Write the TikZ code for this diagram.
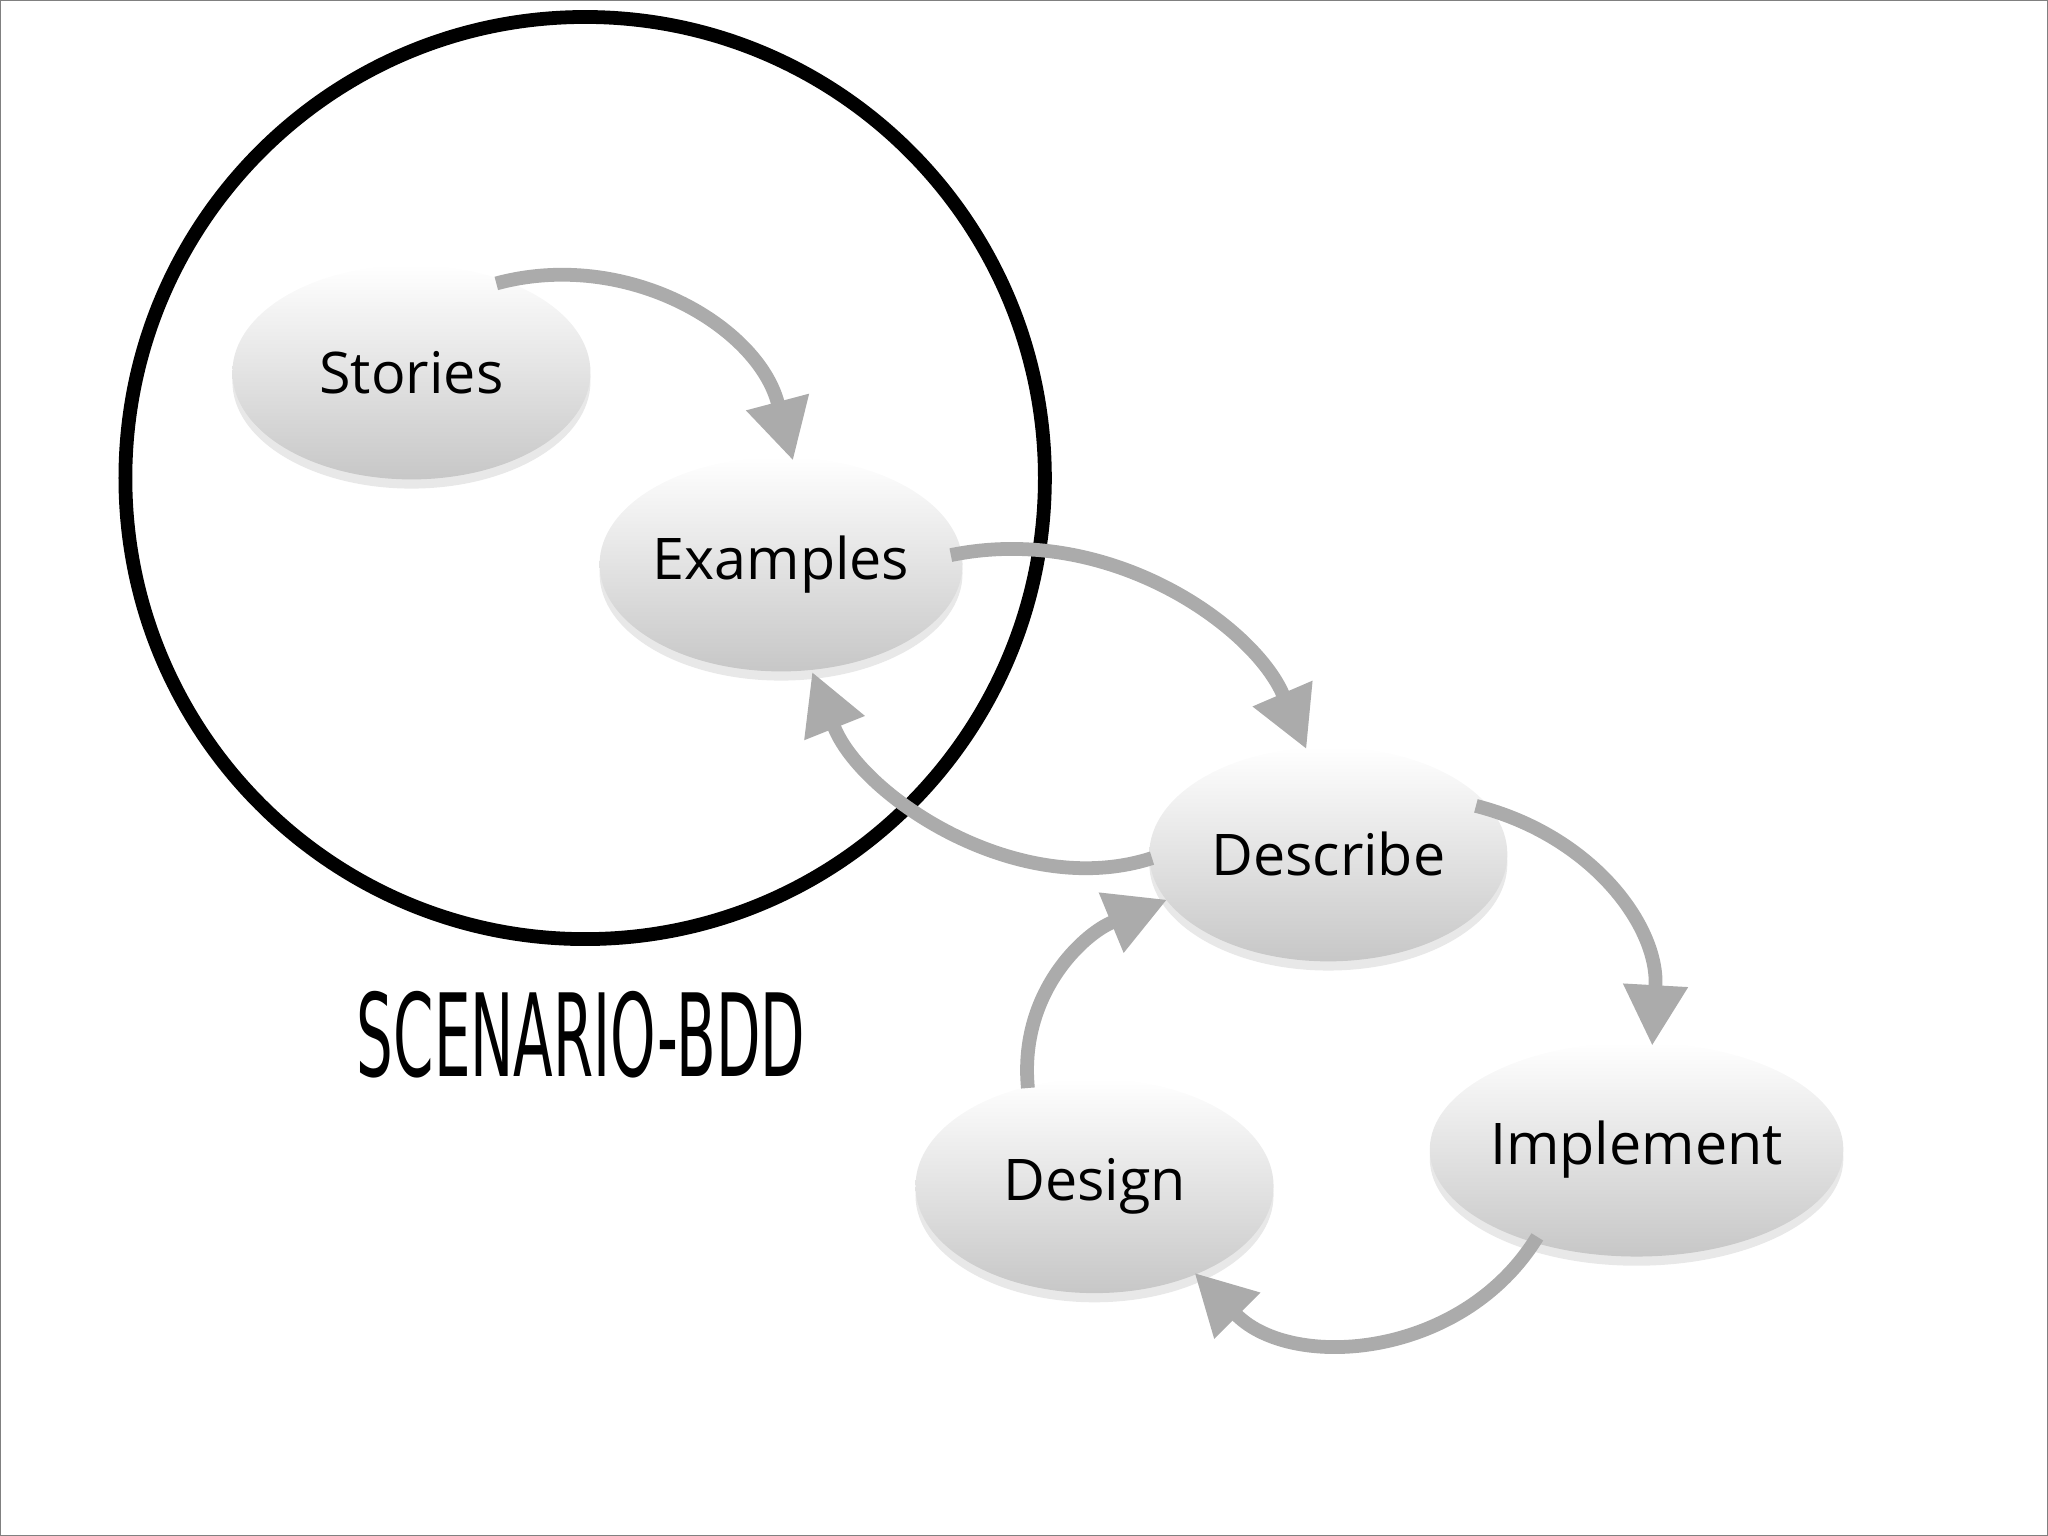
\documentclass[tikz,border=0pt]{standalone}
\usepackage{fontspec}
\setmainfont{Open Sans}
\newfontfamily\titlefont{DejaVu Sans Condensed}
\usetikzlibrary{shadows,arrows.meta,shapes.geometric}
\begin{document}
\begin{tikzpicture}[x=0.01cm,y=-0.01cm,
  bub/.style={ellipse,draw=none,top color=white,bottom color=black!22,inner sep=0pt,
    minimum width=2.74cm,minimum height=1.64cm,font=\fontsize{12.5}{15}\selectfont,
    drop shadow={opacity=0.18,shadow xshift=0pt,shadow yshift=-2pt}},
  flow/.style={draw=black!33,line width=3pt,-{Triangle[length=13pt,width=14pt,fill=black!33,line width=1pt]}}]
\useasboundingbox (0,0) rectangle (1568,1176);
\draw[black!50,line width=0.5pt] (0,0) rectangle (1568,1176);
\draw[line width=3pt] (448,366) ellipse [x radius=352,y radius=353];
\node[bub] (st) at (315,285) {Stories};
\node[bub] (ex) at (598,432) {Examples};
\node[bub] (de) at (1017,654) {Describe};
\node[bub] (im) at (1253,880) {Implement};
\node[bub] (dg) at (838,908) {Design};
\coordinate (a1) at (380,217); \coordinate (b1) at (607,352);
\coordinate (a2) at (728,425); \coordinate (b2) at (1000,573);
\coordinate (a3) at (882,657); \coordinate (b3) at (622,515);
\coordinate (a4) at (1130,617); \coordinate (b4) at (1265,800);
\coordinate (a5) at (1177,947); \coordinate (b5) at (915,975);
\coordinate (a6) at (787,833); \coordinate (b6) at (893,689);
\draw[flow] (a1) .. controls (480,190) and (580,250) .. (b1);
\draw[flow] (a2) .. controls (850,400) and (960,480) .. (b2);
\draw[flow] (a3) .. controls (780,690) and (660,610) .. (b3);
\draw[flow] (a4) .. controls (1220,640) and (1270,710) .. (b4);
\draw[flow] (a5) .. controls (1120,1040) and (990,1050) .. (b5);
\draw[flow] (a6) .. controls (780,760) and (830,715) .. (b6);
\node[font=\titlefont\fontsize{25}{28}\selectfont,xscale=0.56,inner sep=0] (t) at (445,792) {SCENARIO-BDD};
\end{tikzpicture}
\end{document}
